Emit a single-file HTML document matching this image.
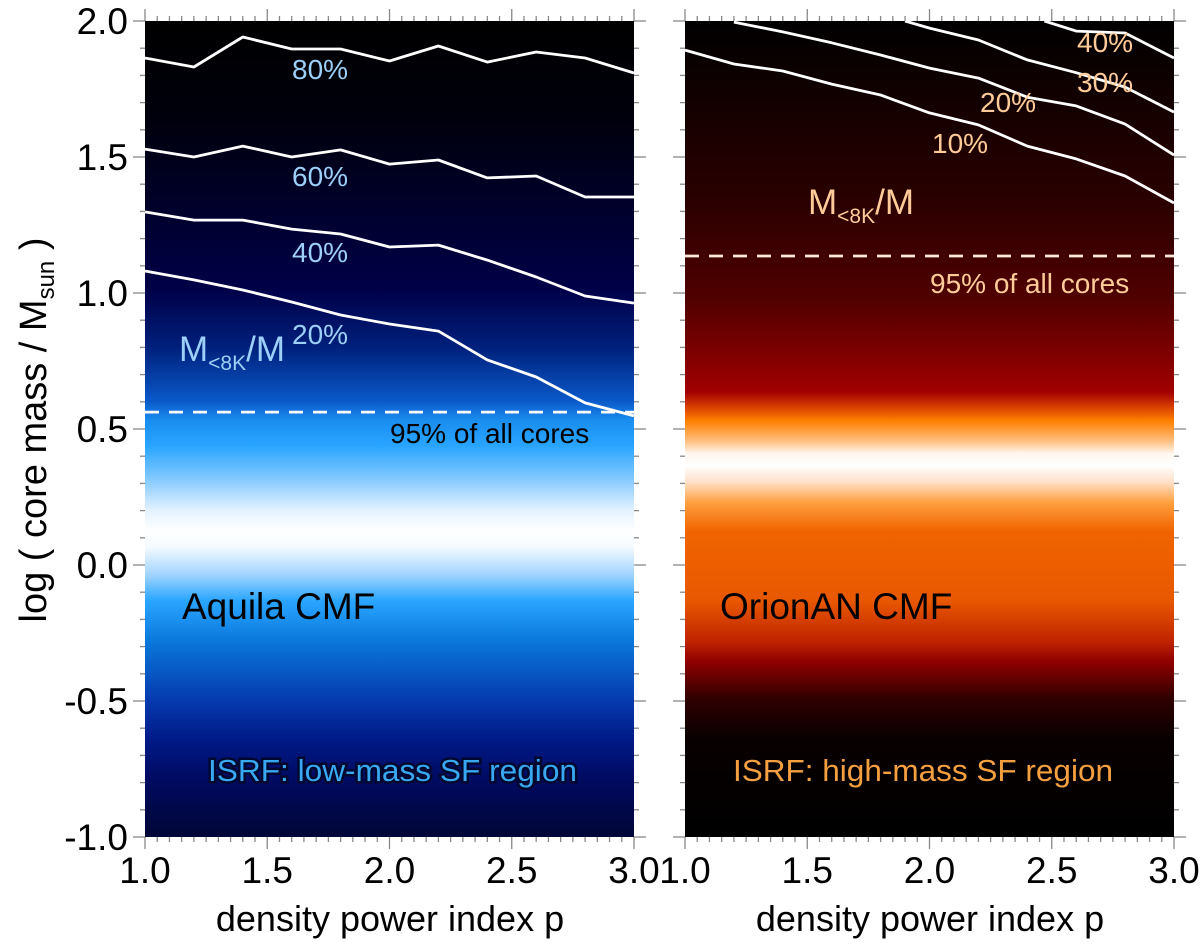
<!DOCTYPE html>
<html><head><meta charset="utf-8"><style>
body{margin:0;background:#fff;}
svg{display:block;font-family:"Liberation Sans",sans-serif;}
</style></head><body>
<svg id="c" width="1200" height="944" viewBox="0 0 1200 944" xmlns="http://www.w3.org/2000/svg">
<defs>
<linearGradient id="gL" gradientUnits="userSpaceOnUse" x1="0" y1="21" x2="0" y2="837">
<stop offset="0" stop-color="#000000"/><stop offset="0.12" stop-color="#00000c"/><stop offset="0.33" stop-color="#000048"/>
<stop offset="0.40" stop-color="#00207c"/><stop offset="0.465" stop-color="#0a58c8"/><stop offset="0.49" stop-color="#1a8ef0"/>
<stop offset="0.52" stop-color="#28a4ff"/><stop offset="0.56" stop-color="#80c8ff"/><stop offset="0.60" stop-color="#e4f2ff"/>
<stop offset="0.625" stop-color="#ffffff"/><stop offset="0.645" stop-color="#f4faff"/><stop offset="0.68" stop-color="#9cd2ff"/>
<stop offset="0.71" stop-color="#2aa6ff"/><stop offset="0.76" stop-color="#0a78dc"/><stop offset="0.83" stop-color="#063cb0"/>
<stop offset="0.88" stop-color="#001a88"/><stop offset="0.93" stop-color="#000a60"/><stop offset="1" stop-color="#000636"/>
</linearGradient>
<linearGradient id="gR" gradientUnits="userSpaceOnUse" x1="0" y1="21" x2="0" y2="837">
<stop offset="0" stop-color="#000000"/><stop offset="0.22" stop-color="#2a0000"/><stop offset="0.34" stop-color="#500000"/>
<stop offset="0.40" stop-color="#780000"/><stop offset="0.455" stop-color="#a20000"/><stop offset="0.47" stop-color="#d03400"/>
<stop offset="0.49" stop-color="#ff8000"/><stop offset="0.515" stop-color="#ffc080"/><stop offset="0.53" stop-color="#fff6ee"/>
<stop offset="0.545" stop-color="#ffffff"/><stop offset="0.565" stop-color="#ffe0c8"/><stop offset="0.59" stop-color="#ffa040"/>
<stop offset="0.625" stop-color="#f06400"/><stop offset="0.71" stop-color="#e85800"/><stop offset="0.76" stop-color="#c02400"/>
<stop offset="0.785" stop-color="#900000"/><stop offset="0.83" stop-color="#300000"/><stop offset="0.88" stop-color="#080000"/>
<stop offset="1" stop-color="#000000"/>
</linearGradient>
</defs>
<rect x="145" y="21" width="489" height="816" fill="url(#gL)"/>
<rect x="685" y="21" width="489" height="816" fill="url(#gR)"/>
<g id="marks"></g>
<g font-size="28">
<text x="292" y="79" fill="#9cd0f8">80%</text>
<text x="292" y="186" fill="#9cd0f8">60%</text>
<text x="292" y="262" fill="#9cd0f8">40%</text>
<text x="292" y="344" fill="#9cd0f8">20%</text>
<text x="179" y="361" fill="#9cd0f8" font-size="35">M<tspan font-size="21" dy="9">&lt;8K</tspan><tspan dy="-9">/M</tspan></text>
<text x="390" y="443" fill="#000">95% of all cores</text>
<text x="182" y="619" fill="#000" font-size="37">Aquila CMF</text>
<text x="208" y="781" fill="#38a8f0" font-size="31" textLength="369" lengthAdjust="spacingAndGlyphs" stroke="#000830" stroke-width="5" paint-order="stroke">ISRF: low-mass SF region</text>
<text x="1077" y="52" fill="#ffcc99">40%</text>
<text x="1077" y="92" fill="#ffcc99">30%</text>
<text x="980" y="112" fill="#ffcc99">20%</text>
<text x="932" y="153" fill="#ffcc99">10%</text>
<text x="808" y="214" fill="#ffcc99" font-size="35">M<tspan font-size="21" dy="9">&lt;8K</tspan><tspan dy="-9">/M</tspan></text>
<text x="930" y="293" fill="#ffcc99">95% of all cores</text>
<text x="720" y="619" fill="#000" font-size="37">OrionAN CMF</text>
<text x="733" y="781" fill="#f5a040" font-size="31" textLength="380" lengthAdjust="spacingAndGlyphs">ISRF: high-mass SF region</text>
</g>
<text x="0" y="0" font-size="38" text-anchor="middle" transform="translate(46,430) rotate(-90)">log ( core mass / M<tspan font-size="24" dy="8">sun</tspan><tspan dy="-8"> )</tspan></text>
<text x="390" y="931" font-size="36" text-anchor="middle">density power index p</text>
<text x="930" y="931" font-size="36" text-anchor="middle">density power index p</text>
</svg>
<script>
const xTicks=[1.0,1.5,2.0,2.5,3.0];
const xTickLabels=["1.0","1.5","2.0","2.5","3.0"];
const yTicks=[2.0,1.5,1.0,0.5,0.0,-0.5,-1.0];
const yTickLabels=["2.0","1.5","1.0","0.5","0.0","-0.5","-1.0"];
const pGrid=[1.0,1.2,1.4,1.6,1.8,2.0,2.2,2.4,2.6,2.8,3.0];
const aq80=[1.864,1.831,1.941,1.897,1.897,1.853,1.908,1.849,1.886,1.864,1.809];
const aq60=[1.529,1.5,1.540,1.5,1.526,1.474,1.489,1.423,1.430,1.353,1.353];
const aq40=[1.298,1.268,1.268,1.235,1.217,1.169,1.176,1.121,1.059,0.989,0.963];
const aq20=[1.081,1.048,1.011,0.967,0.919,0.886,0.860,0.754,0.691,0.596,0.548];
const or10=[1.893,1.842,1.816,1.768,1.728,1.662,1.618,1.540,1.493,1.430,1.331];
const or20p=[1.2,1.4,1.6,1.8,2.0,2.2,2.4,2.6,2.8,3.0];
const or20=[1.996,1.96,1.92,1.875,1.827,1.79,1.72,1.688,1.621,1.507];
const or30p=[1.9,2.0,2.2,2.4,2.6,2.8,3.0];
const or30=[2.0,1.974,1.93,1.857,1.81,1.757,1.665];
const or40p=[2.47,2.6,2.8,3.0];
const or40=[2.0,1.963,1.956,1.864];
const cut95=[0.562,1.136];
const NS="http://www.w3.org/2000/svg";
const g=document.getElementById('marks');
const panels=[145,685], W=489, Y0=21, H=816;
function X(i,p){return panels[i]+(p-1)/2*W;}
function Y(v){return Y0+(2-v)/3*H;}
function mk(t,a){const e=document.createElementNS(NS,t);for(const k in a)e.setAttribute(k,a[k]);g.appendChild(e);return e;}
function line(i,ps,vs,name){
  const d=ps.map((p,j)=>(j?'L':'M')+X(i,p).toFixed(1)+','+Y(vs[j]).toFixed(1)).join(' ');
  const e=mk('path',{d:d,fill:'none',stroke:'#fff','stroke-width':2.8,'stroke-linejoin':'round'});
  
  
}
line(0,pGrid,aq80,'contour-80');line(0,pGrid,aq60,'contour-60');line(0,pGrid,aq40,'contour-40');line(0,pGrid,aq20,'contour-20');
line(1,pGrid,or10,'contour-r10');line(1,or20p,or20,'contour-r20');line(1,or30p,or30,'contour-r30');line(1,or40p,or40,'contour-r40');
[0,1].forEach(i=>{
  const e=mk('line',{x1:panels[i],x2:panels[i]+W,y1:Y(cut95[i]),y2:Y(cut95[i]),stroke:i?'#ffe8d8':'#fff','stroke-width':2.8,'stroke-dasharray':'14,10'});
  
  
  for(let k=0;k<=40;k++){const p=1+k*0.05;const x=X(i,p);const L=(k%10==0)?12:5;
    mk('line',{x1:x,x2:x,y1:Y0-L,y2:Y0,stroke:'#888','stroke-width':1.3});
    mk('line',{x1:x,x2:x,y1:Y0+H,y2:Y0+H+L,stroke:'#888','stroke-width':1.3});}
  for(let k=0;k<=30;k++){const v=2-k*0.1;const y=Y(v);const L=(k%5==0)?12:5;
    mk('line',{x1:panels[i]-L,x2:panels[i],y1:y,y2:y,stroke:'#888','stroke-width':1.3});
    mk('line',{x1:panels[i]+W,x2:panels[i]+W+L,y1:y,y2:y,stroke:'#888','stroke-width':1.3});}
  xTicks.forEach((p,j)=>{const t=mk('text',{x:X(i,p),y:883,'font-size':37,'text-anchor':'middle'});t.textContent=xTickLabels[j];
    
    });
});
yTicks.forEach((v,j)=>{const t=mk('text',{x:128,y:Y(v)+13,'font-size':37,'text-anchor':'end'});t.textContent=yTickLabels[j];
  
  });
</script>
</body></html>
